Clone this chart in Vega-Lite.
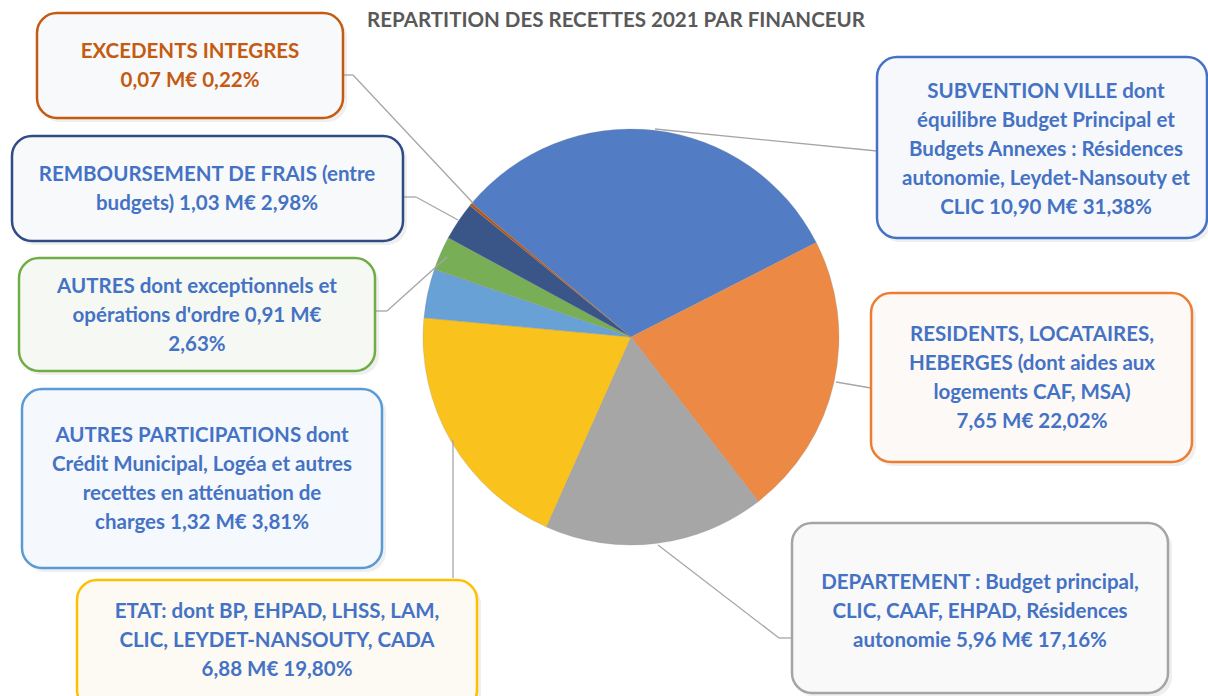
{
  "$schema": "https://vega.github.io/schema/vega-lite/v6.json",
  "width": 1208,
  "height": 696,
  "autosize": "none",
  "padding": 0,
  "background": "#FFFFFF",
  "config": {
    "view": {"stroke": null},
    "axis": {"disable": true},
    "legend": {"disable": true},
    "text": {"font": "Lato", "fontWeight": 700, "fontSize": 20.5, "lineHeight": 29, "align": "center", "baseline": "middle", "color": "#4472C4"}
  },
  "datasets": {
    "slices": [
      {"cat": "Subvention Ville", "ord": 1, "meur": 10.90, "pct": 31.38, "label": ["SUBVENTION VILLE dont", "équilibre Budget Principal et", "Budgets Annexes : Résidences", "autonomie, Leydet-Nansouty et", "CLIC 10,90 M€ 31,38%"]},
      {"cat": "Résidents", "ord": 2, "meur": 7.65, "pct": 22.02, "label": ["RESIDENTS, LOCATAIRES,", "HEBERGES (dont aides aux", "logements CAF, MSA)", "7,65 M€ 22,02%"]},
      {"cat": "Département", "ord": 3, "meur": 5.96, "pct": 17.16, "label": ["DEPARTEMENT : Budget principal,", "CLIC, CAAF, EHPAD, Résidences", "autonomie  5,96 M€ 17,16%"]},
      {"cat": "Etat", "ord": 4, "meur": 6.88, "pct": 19.80, "label": ["ETAT: dont BP, EHPAD, LHSS, LAM,", "CLIC, LEYDET-NANSOUTY, CADA", "6,88 M€ 19,80%"]},
      {"cat": "Autres participations", "ord": 5, "meur": 1.32, "pct": 3.81, "label": ["AUTRES PARTICIPATIONS dont", "Crédit Municipal, Logéa et autres", "recettes en atténuation de", "charges  1,32 M€ 3,81%"]},
      {"cat": "Autres", "ord": 6, "meur": 0.91, "pct": 2.63, "label": ["AUTRES dont exceptionnels et", "opérations d'ordre 0,91 M€", "2,63%"]},
      {"cat": "Remboursement de frais", "ord": 7, "meur": 1.03, "pct": 2.98, "label": ["REMBOURSEMENT DE FRAIS (entre", "budgets) 1,03 M€ 2,98%"]},
      {"cat": "Excédents intégrés", "ord": 8, "meur": 0.07, "pct": 0.22, "label": ["EXCEDENTS INTEGRES", "0,07 M€ 0,22%"]}
    ]
  },
  "data": {"name": "slices"},
  "layer": [
    {
      "mark": {"type": "arc", "outerRadius": 208, "stroke": "#8C8C8C", "strokeWidth": 0.4, "strokeOpacity": 0.6},
      "encoding": {
        "x": {"datum": 631, "type": "quantitative", "scale": {"domain": [0, 1208], "nice": false, "zero": false}},
        "y": {"datum": 337, "type": "quantitative", "scale": {"domain": [0, 696], "nice": false, "zero": false, "reverse": true}},
        "theta": {"field": "pct", "type": "quantitative", "stack": true, "scale": {"range": [-0.87266, 5.41052]}},
        "order": {"field": "ord", "type": "quantitative"},
        "color": {
          "field": "cat", "type": "nominal",
          "scale": {
            "domain": ["Subvention Ville", "Résidents", "Département", "Etat", "Autres participations", "Autres", "Remboursement de frais", "Excédents intégrés"],
            "range": ["#527DC5", "#EC8A45", "#A6A6A6", "#F9C21D", "#67A1D6", "#78AE56", "#3A5689", "#B4561A"]
          }
        }
      }
    },
    {
      "transform": [{"filter": "datum.ord == 1"}],
      "layer": [
        {"mark": {"type": "rule", "color": "#A6A6A6", "strokeWidth": 1.3}, "encoding": {"x": {"datum": 655}, "y": {"datum": 129}, "x2": {"datum": 877}, "y2": {"datum": 151}}},
        {"mark": {"type": "rect", "cornerRadius": 20, "fill": "#7F7F7F", "opacity": 0.12}, "encoding": {"x": {"datum": 880}, "x2": {"datum": 1211}, "y": {"datum": 61}, "y2": {"datum": 242}}},
        {"mark": {"type": "rect", "cornerRadius": 20, "stroke": "#4472C4", "strokeWidth": 2.5, "fill": "#F6F8FC"}, "encoding": {"x": {"datum": 877}, "x2": {"datum": 1207}, "y": {"datum": 57}, "y2": {"datum": 238}}},
        {"mark": {"type": "text"}, "encoding": {"text": {"field": "label"}, "x": {"datum": 1046}, "y": {"datum": 92}}}
      ]
    },
    {
      "transform": [{"filter": "datum.ord == 2"}],
      "layer": [
        {"mark": {"type": "rule", "color": "#A6A6A6", "strokeWidth": 1.3}, "encoding": {"x": {"datum": 836}, "y": {"datum": 382}, "x2": {"datum": 871}, "y2": {"datum": 388}}},
        {"mark": {"type": "rect", "cornerRadius": 20, "fill": "#7F7F7F", "opacity": 0.12}, "encoding": {"x": {"datum": 874}, "x2": {"datum": 1196}, "y": {"datum": 297}, "y2": {"datum": 466}}},
        {"mark": {"type": "rect", "cornerRadius": 20, "stroke": "#ED7D31", "strokeWidth": 2.5, "fill": "#FDF9F6"}, "encoding": {"x": {"datum": 871}, "x2": {"datum": 1192}, "y": {"datum": 293}, "y2": {"datum": 462}}},
        {"mark": {"type": "text"}, "encoding": {"text": {"field": "label"}, "x": {"datum": 1032}, "y": {"datum": 335}}}
      ]
    },
    {
      "transform": [{"filter": "datum.ord == 3"}],
      "layer": [
        {"mark": {"type": "rule", "color": "#A6A6A6", "strokeWidth": 1.3}, "encoding": {"x": {"datum": 658}, "y": {"datum": 545}, "x2": {"datum": 779}, "y2": {"datum": 638}}},
        {"mark": {"type": "rule", "color": "#A6A6A6", "strokeWidth": 1.3}, "encoding": {"x": {"datum": 779}, "y": {"datum": 638}, "x2": {"datum": 792}, "y2": {"datum": 638}}},
        {"mark": {"type": "rect", "cornerRadius": 20, "fill": "#7F7F7F", "opacity": 0.12}, "encoding": {"x": {"datum": 795}, "x2": {"datum": 1172}, "y": {"datum": 527}, "y2": {"datum": 697}}},
        {"mark": {"type": "rect", "cornerRadius": 20, "stroke": "#A5A5A5", "strokeWidth": 2.5, "fill": "#F9F9F9"}, "encoding": {"x": {"datum": 792}, "x2": {"datum": 1168}, "y": {"datum": 523}, "y2": {"datum": 693}}},
        {"mark": {"type": "text"}, "encoding": {"text": {"field": "label"}, "x": {"datum": 980}, "y": {"datum": 583}}}
      ]
    },
    {
      "transform": [{"filter": "datum.ord == 4"}],
      "layer": [
        {"mark": {"type": "rule", "color": "#A6A6A6", "strokeWidth": 1.3}, "encoding": {"x": {"datum": 453}, "y": {"datum": 440}, "x2": {"datum": 453}, "y2": {"datum": 578}}},
        {"mark": {"type": "rect", "cornerRadius": 20, "fill": "#7F7F7F", "opacity": 0.12}, "encoding": {"x": {"datum": 80}, "x2": {"datum": 481}, "y": {"datum": 584}, "y2": {"datum": 714}}},
        {"mark": {"type": "rect", "cornerRadius": 20, "stroke": "#FFC000", "strokeWidth": 2.5, "fill": "#FCFAF3"}, "encoding": {"x": {"datum": 77}, "x2": {"datum": 477}, "y": {"datum": 580}, "y2": {"datum": 710}}},
        {"mark": {"type": "text"}, "encoding": {"text": {"field": "label"}, "x": {"datum": 277}, "y": {"datum": 612}}}
      ]
    },
    {
      "transform": [{"filter": "datum.ord == 5"}],
      "layer": [
        {"mark": {"type": "rect", "cornerRadius": 20, "fill": "#7F7F7F", "opacity": 0.12}, "encoding": {"x": {"datum": 25}, "x2": {"datum": 386}, "y": {"datum": 393}, "y2": {"datum": 572}}},
        {"mark": {"type": "rect", "cornerRadius": 20, "stroke": "#5B9BD5", "strokeWidth": 2.5, "fill": "#F5F8FC"}, "encoding": {"x": {"datum": 22}, "x2": {"datum": 382}, "y": {"datum": 389}, "y2": {"datum": 568}}},
        {"mark": {"type": "text"}, "encoding": {"text": {"field": "label"}, "x": {"datum": 202}, "y": {"datum": 436}}}
      ]
    },
    {
      "transform": [{"filter": "datum.ord == 6"}],
      "layer": [
        {"mark": {"type": "rule", "color": "#A6A6A6", "strokeWidth": 1.3}, "encoding": {"x": {"datum": 375}, "y": {"datum": 311}, "x2": {"datum": 387}, "y2": {"datum": 311}}},
        {"mark": {"type": "rule", "color": "#A6A6A6", "strokeWidth": 1.3}, "encoding": {"x": {"datum": 387}, "y": {"datum": 311}, "x2": {"datum": 447}, "y2": {"datum": 257}}},
        {"mark": {"type": "rect", "cornerRadius": 20, "fill": "#7F7F7F", "opacity": 0.12}, "encoding": {"x": {"datum": 22}, "x2": {"datum": 379}, "y": {"datum": 262}, "y2": {"datum": 375}}},
        {"mark": {"type": "rect", "cornerRadius": 20, "stroke": "#70AD47", "strokeWidth": 2.5, "fill": "#F6F8F4"}, "encoding": {"x": {"datum": 19}, "x2": {"datum": 375}, "y": {"datum": 258}, "y2": {"datum": 371}}},
        {"mark": {"type": "text"}, "encoding": {"text": {"field": "label"}, "x": {"datum": 197}, "y": {"datum": 287}}}
      ]
    },
    {
      "transform": [{"filter": "datum.ord == 7"}],
      "layer": [
        {"mark": {"type": "rule", "color": "#A6A6A6", "strokeWidth": 1.3}, "encoding": {"x": {"datum": 403}, "y": {"datum": 197}, "x2": {"datum": 416}, "y2": {"datum": 197}}},
        {"mark": {"type": "rule", "color": "#A6A6A6", "strokeWidth": 1.3}, "encoding": {"x": {"datum": 416}, "y": {"datum": 197}, "x2": {"datum": 458}, "y2": {"datum": 220}}},
        {"mark": {"type": "rect", "cornerRadius": 20, "fill": "#7F7F7F", "opacity": 0.12}, "encoding": {"x": {"datum": 15}, "x2": {"datum": 407}, "y": {"datum": 140}, "y2": {"datum": 245}}},
        {"mark": {"type": "rect", "cornerRadius": 20, "stroke": "#2F4C84", "strokeWidth": 2.5, "fill": "#F8F9FB"}, "encoding": {"x": {"datum": 12}, "x2": {"datum": 403}, "y": {"datum": 136}, "y2": {"datum": 241}}},
        {"mark": {"type": "text"}, "encoding": {"text": {"field": "label"}, "x": {"datum": 207}, "y": {"datum": 175}}}
      ]
    },
    {
      "transform": [{"filter": "datum.ord == 8"}],
      "layer": [
        {"mark": {"type": "rule", "color": "#A6A6A6", "strokeWidth": 1.3}, "encoding": {"x": {"datum": 343}, "y": {"datum": 75}, "x2": {"datum": 353}, "y2": {"datum": 75}}},
        {"mark": {"type": "rule", "color": "#A6A6A6", "strokeWidth": 1.3}, "encoding": {"x": {"datum": 353}, "y": {"datum": 75}, "x2": {"datum": 473}, "y2": {"datum": 203}}},
        {"mark": {"type": "rect", "cornerRadius": 20, "fill": "#7F7F7F", "opacity": 0.12}, "encoding": {"x": {"datum": 40}, "x2": {"datum": 347}, "y": {"datum": 17}, "y2": {"datum": 122}}},
        {"mark": {"type": "rect", "cornerRadius": 20, "stroke": "#C55A11", "strokeWidth": 2.5, "fill": "#F8F9FB"}, "encoding": {"x": {"datum": 37}, "x2": {"datum": 343}, "y": {"datum": 13}, "y2": {"datum": 118}}},
        {"mark": {"type": "text", "color": "#C55A11"}, "encoding": {"text": {"field": "label"}, "x": {"datum": 190}, "y": {"datum": 52}}}
      ]
    },
    {
      "data": {"values": [{"title": "REPARTITION DES RECETTES 2021 PAR FINANCEUR"}]},
      "mark": {"type": "text", "fontSize": 20.5, "color": "#595959"},
      "encoding": {"text": {"field": "title"}, "x": {"datum": 616}, "y": {"datum": 21}}
    }
  ]
}
